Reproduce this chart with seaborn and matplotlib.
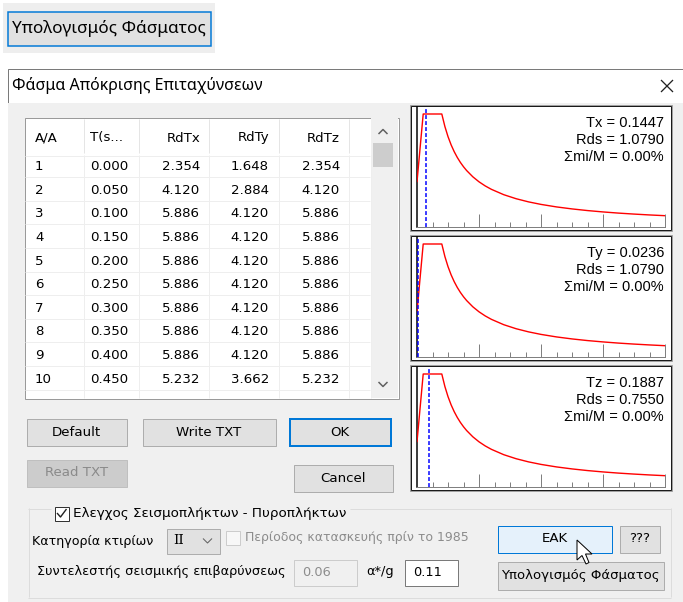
import matplotlib
matplotlib.use("Agg")
import matplotlib.pyplot as plt
from matplotlib.patches import Rectangle, Polygon
from matplotlib.lines import Line2D
import seaborn as sns
import pandas as pd

sns.set_style("white")
plt.rcParams['font.family'] = ['DejaVu Sans']

# ---------------- data ----------------
col_headers = ["A/A", "T(s...", "RdTx", "RdTy", "RdTz"]
row_no = ["1", "2", "3", "4", "5", "6", "7", "8", "9", "10"]
table_T = ["0.000", "0.050", "0.100", "0.150", "0.200", "0.250", "0.300", "0.350", "0.400", "0.450"]
table_RdTx = ["2.354", "4.120", "5.886", "5.886", "5.886", "5.886", "5.886", "5.886", "5.886", "5.232"]
table_RdTy = ["1.648", "2.884", "4.120", "4.120", "4.120", "4.120", "4.120", "4.120", "4.120", "3.662"]
table_RdTz = ["2.354", "4.120", "5.886", "5.886", "5.886", "5.886", "5.886", "5.886", "5.886", "5.232"]

spectrum_T = [0.00, 0.05, 0.10, 0.40, 0.45, 0.50, 0.55, 0.60, 0.65, 0.70, 0.75, 0.80, 0.90,
              1.00, 1.10, 1.20, 1.40, 1.60, 1.80, 2.00, 2.25, 2.50, 2.75, 3.00, 3.25, 3.50, 3.75, 4.00]
spectrum_Rdx = [2.354, 4.120, 5.886, 5.886, 5.232, 4.709, 4.281, 3.924, 3.622, 3.363, 3.139, 2.943, 2.616,
                2.354, 2.140, 1.962, 1.682, 1.472, 1.308, 1.177, 1.046, 0.942, 0.856, 0.785, 0.724, 0.673, 0.628, 0.589]
spectrum_Rdy = [1.648, 2.884, 4.120, 4.120, 3.662, 3.296, 2.997, 2.747, 2.535, 2.354, 2.197, 2.060, 1.831,
                1.648, 1.498, 1.373, 1.177, 1.030, 0.916, 0.824, 0.732, 0.659, 0.599, 0.550, 0.507, 0.471, 0.440, 0.412]
spectrum_Rdz = [2.354, 4.120, 5.886, 5.886, 5.232, 4.709, 4.281, 3.924, 3.622, 3.363, 3.139, 2.943, 2.616,
                2.354, 2.140, 1.962, 1.682, 1.472, 1.308, 1.177, 1.046, 0.942, 0.856, 0.785, 0.724, 0.673, 0.628, 0.589]

period_names = ["Tx", "Ty", "Tz"]
period_values = [0.1447, 0.0236, 0.1887]
rds_values = [1.0790, 1.0790, 0.7550]
mass_ratio = ["0.00%", "0.00%", "0.00%"]

# ---------------- canvas ----------------
W, H = 683, 602
DPI = 100
PX = 72.0 / DPI

fig = plt.figure(figsize=(W / DPI, H / DPI), dpi=DPI)
fig.patch.set_facecolor("white")
bg = fig.add_axes([0, 0, 1, 1])
bg.set_xlim(0, W)
bg.set_ylim(H, 0)
bg.axis("off")
renderer = fig.canvas.get_renderer()

UI = "DejaVu Sans"
SEG = "Noto Sans"
ARIAL = "Liberation Sans"


def fit(s, family, target, size0=10.0):
    t = fig.text(0, 0, s, fontsize=size0, family=family)
    w = t.get_window_extent(renderer=renderer).width
    t.remove()
    return size0 * target / w


def box(x0, y0, x1, y1, fc="none", ec="none", lw=1.0, z=1):
    bg.add_patch(Rectangle((x0, y0), x1 - x0, y1 - y0, facecolor=fc, edgecolor=ec,
                           linewidth=lw * PX, zorder=z))


def line(xs, ys, c, lw=1.0, z=2):
    bg.add_line(Line2D(xs, ys, color=c, linewidth=lw * PX, zorder=z, solid_capstyle="butt"))


def txt(x, y, s, size, family, ha="left", color="black", z=5):
    bg.text(x, y, s, fontsize=size, family=family, ha=ha, va="center", color=color, zorder=z)


def button(x0, y0, x1, y1, label, size, family=UI, fc="#e1e1e1", ec="#adadad", lw=1.0, tc="black"):
    box(x0 + 0.5, y0 + 0.5, x1 - 0.5, y1 - 0.5, fc=fc, ec=ec, lw=lw, z=2)
    txt((x0 + x1) / 2, (y0 + y1) / 2, label, size, family, ha="center", color=tc)


# ---------------- top button ----------------
box(3, 3, 215, 53, fc="#eeeeee", z=1)
button(7, 11, 211, 46, "Υπολογισμός Φάσματος", fit("Υπολογισμός Φάσματος", SEG, 193), family=SEG,
       fc="#e1e1e1", ec="#0078d7", lw=1.5)

# ---------------- dialog frame ----------------
box(7.5, 68.5, W + 5, H + 5, fc="white", ec="#7a7a7a", lw=1.0, z=0.5)
box(8, 103, W, H, fc="#f0f0f0", z=0.6)
txt(12, 85, "Φάσμα Απόκρισης Επιταχύνσεων", fit("Φάσμα Απόκρισης Επιταχύνσεων", SEG, 250), SEG)
line([661, 673], [80, 92], "#222222", lw=1.3)
line([661, 673], [92, 80], "#222222", lw=1.3)

# ---------------- list view ----------------
tsz = fit("0.000", UI, 38)
box(24.5, 117.5, 398.5, 398.5, fc="white", ec="#9a9a9a", lw=1.0, z=1)
col_x = [83, 138, 208, 278, 348]
for x in col_x:
    line([x + 0.5, x + 0.5], [119, 153], "#e5e5e5")
for x in col_x + [370]:
    line([x + 0.5, x + 0.5], [155, 398], "#eeeeee")
line([25, 370], [155.5, 155.5], "#eeeeee")
row_y = [166.7 + 23.6 * i for i in range(10)]
for y in row_y:
    line([25, 370], [y + 10.5, y + 10.5], "#eeeeee")

hdr_y = 138
txt(35, hdr_y, col_headers[0], tsz, UI)
txt(90, hdr_y, col_headers[1], tsz, UI)
txt(200, hdr_y, col_headers[2], tsz, UI, ha="right")
txt(269, hdr_y, col_headers[3], tsz, UI, ha="right")
txt(340, hdr_y, col_headers[4], tsz, UI, ha="right")
for i, y in enumerate(row_y):
    txt(35, y, row_no[i], tsz, UI)
    txt(90, y, table_T[i], tsz, UI)
    txt(200, y, table_RdTx[i], tsz, UI, ha="right")
    txt(269, y, table_RdTy[i], tsz, UI, ha="right")
    txt(340, y, table_RdTz[i], tsz, UI, ha="right")

# scrollbar
box(371, 118, 398, 398, fc="#f0f0f0", z=1.5)
box(373, 143, 393, 167, fc="#cdcdcd", z=1.6)
line([378.5, 383, 387.5], [134, 129.5, 134], "#606060", lw=1.5)
line([378.5, 383, 387.5], [382, 386.5, 382], "#606060", lw=1.5)

# ---------------- buttons ----------------
bsz = fit("Write TXT", UI, 65)
button(26, 418, 127, 446, "Default", bsz)
button(142, 418, 276, 446, "Write TXT", bsz)
button(289, 418, 391, 446, "OK", bsz, ec="#0078d7", lw=2.0)
button(26, 459, 127, 487, "Read TXT", bsz, fc="#cccccc", ec="#bfbfbf", tc="#8a8a8a")
button(293, 464, 393, 492, "Cancel", bsz)

# ---------------- spectrum plots ----------------
series = [spectrum_Rdx, spectrum_Rdy, spectrum_Rdz]
psz = fit("Σmi/M = 0.00%", ARIAL, 99)
for i in range(3):
    b = 227 + 130 * i
    box(409.5, b - 122.5, 671.5, b + 3.5, fc="white", ec="#a0a0a0", lw=1.0, z=1)
    box(410.5, b - 121.5, 670.5, b + 2.5, fc="none", ec="#1a1a1a", lw=1.0, z=1.1)
    ax = fig.add_axes([417 / W, 1 - b / H, (665 - 417) / W, 120 / H])
    ax.set_facecolor("none")
    df = pd.DataFrame({"T": spectrum_T, "Rd": series[i]})
    sns.lineplot(data=df, x="T", y="Rd", ax=ax, color="#ff0000", linewidth=1.4 * PX,
                 estimator=None, sort=False, zorder=3)
    ax.axvline(period_values[i], color="#0000ff", linewidth=1.5 * PX, linestyle=(0, (2.6, 1.4)), zorder=4)
    ax.set_xlim(0, 4)
    ax.set_ylim(0, max(series[i]) * 120 / 113)
    for s in ["top", "right"]:
        ax.spines[s].set_visible(False)
    ax.spines["left"].set_color("#000000")
    ax.spines["left"].set_linewidth(1.5 * PX)
    ax.spines["bottom"].set_color("#808080")
    ax.spines["bottom"].set_linewidth(1.0 * PX)
    ax.set_xticks([1, 2, 3, 4])
    ax.set_xticks([0.25, 0.5, 0.75, 1.25, 1.5, 1.75, 2.25, 2.5, 2.75, 3.25, 3.5, 3.75], minor=True)
    ax.set_yticks([])
    ax.tick_params(axis="x", which="major", direction="in", length=13 * PX, width=1.0 * PX,
                   color="#808080", labelbottom=False, bottom=True)
    ax.tick_params(axis="x", which="minor", direction="in", length=5 * PX, width=1.0 * PX,
                   color="#808080", labelbottom=False, bottom=True)
    ax.set_xlabel("")
    ax.set_ylabel("")
    txt(664, b - 104, f"{period_names[i]} = {period_values[i]:.4f}", psz, ARIAL, ha="right", z=6)
    txt(664, b - 87, f"Rds = {rds_values[i]:.4f}", psz, ARIAL, ha="right", z=6)
    txt(664, b - 70, f"Σmi/M = {mass_ratio[i]}", psz, ARIAL, ha="right", z=6)

# ---------------- group box ----------------
glabel = "Ελεγχος Σεισμοπλήκτων - Πυροπλήκτων"
lab_w = 272
line([28.5, 28.5], [508, 597], "#dcdcdc")
line([670.5, 670.5], [508, 597], "#dcdcdc")
line([28, 671], [597.5, 597.5], "#dcdcdc")
line([28, 51], [508.5, 508.5], "#dcdcdc")
line([73 + lab_w + 5, 671], [508.5, 508.5], "#dcdcdc")
box(54.5, 506.5, 68.5, 520.5, fc="white", ec="#333333", lw=1.0, z=2)
line([57, 60.5, 66.5], [513, 517, 509], "#222222", lw=1.4)
txt(73, 513, glabel, fit(glabel, UI, lab_w), UI)

s_cat = "Κατηγορία κτιρίων"
txt(32, 541, s_cat, fit(s_cat, UI, 121), UI)
box(166.5, 528.5, 219.5, 553.5, fc="#e1e1e1", ec="#adadad", lw=1.0, z=2)
txt(173, 541, "II", fit(s_cat, UI, 121) * 1.05, "DejaVu Serif")
line([203, 207.5, 212], [538.5, 543, 538.5], "#606060", lw=1.0)
box(225.5, 530.5, 239.5, 544.5, fc="#f7f7f7", ec="#cccccc", lw=1.0, z=2)
s_per = "Περίοδος κατασκευής πρίν το 1985"
txt(245, 537, s_per, fit(s_per, UI, 224), UI, color="#8c8c8c")

s_coef = "Συντελεστής σεισμικής επιβαρύνσεως"
gsz = fit(s_coef, UI, 248)
txt(37, 572, s_coef, gsz, UI)
box(293.5, 559.5, 356.5, 585.5, fc="#f0f0f0", ec="#cccccc", lw=1.0, z=2)
txt(302, 572, "0.06", gsz, UI, color="#8c8c8c")
txt(366, 572, "α*/g", gsz, UI)
box(404.5, 559.5, 457.5, 585.5, fc="white", ec="#7a7a7a", lw=1.0, z=2)
txt(413, 572, "0.11", gsz, UI)

button(497, 525, 612, 553, "ΕΑΚ", bsz, fc="#e5f1fb", ec="#0078d7")
button(619, 525, 660, 553, "???", bsz)
button(497, 561, 664, 590, "Υπολογισμός Φάσματος", fit("Υπολογισμός Φάσματος", UI, 158))

# mouse pointer
cx, cy = 577, 540
pts = [(0, 0), (0, 20), (5, 15.5), (9, 24), (12, 22.5), (8.5, 14), (15, 14)]
bg.add_patch(Polygon([(cx + a, cy + c) for a, c in pts], closed=True, facecolor="white",
                     edgecolor="black", linewidth=1.0 * PX, zorder=8))

fig.savefig("out.png", dpi=DPI, facecolor=fig.get_facecolor())
